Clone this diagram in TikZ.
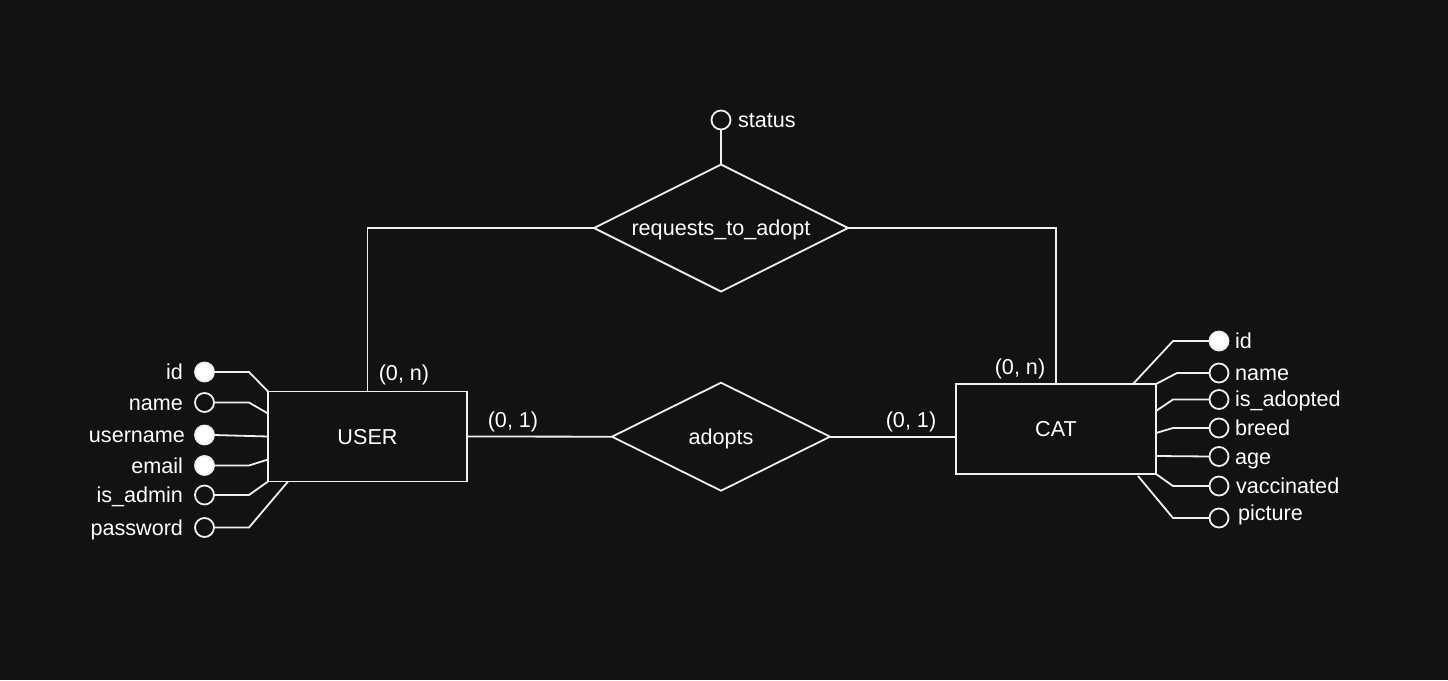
\documentclass[tikz,border=0pt]{standalone}
\usepackage{fontspec}
\setmainfont{Liberation Sans}
\usetikzlibrary{shapes.geometric}
\definecolor{bg}{RGB}{18,18,18}
\definecolor{ln}{RGB}{240,240,240}
\begin{document}
\begin{tikzpicture}[x=1pt,y=-1pt,
  every node/.style={font=\fontsize{21.6}{26}\selectfont, text=white, inner sep=0pt, outer sep=0pt},
  txt/.style={text height=17.5pt, text depth=2pt},
  conn/.style={draw=ln, line width=1.8pt},
  entity/.style={draw=ln, line width=1.8pt, rectangle, minimum width=199pt, minimum height=90pt},
  rel/.style={draw=ln, line width=1.8pt, diamond, aspect=2},
  keyattr/.style={draw=ln, fill=white, line width=1.8pt, circle, minimum size=19pt},
  attr/.style={draw=ln, fill=bg, line width=1.8pt, circle, minimum size=19pt},
]
\fill[bg] (0,0) rectangle (1448,680);
\useasboundingbox (0,0) rectangle (1448,680);

% entities
\node[entity, txt] (user) at (367.5,436.5) {USER};
\node[entity, txt, minimum width=200pt] (cat) at (1056,429) {CAT};

% relationships
\node[rel, txt, minimum width=254pt, minimum height=127pt] (req) at (721,228) {requests\_to\_adopt};
\node[rel, txt, minimum width=218pt, minimum height=108pt] (adopts) at (721,436.7) {adopts};

% status attribute
\node[attr] (status) at (721,120) {};
\node[txt, anchor=west] (statusl) at (738,120) {status};
\draw[conn] (status.south) -- (req.north);

% relationship connectors
\draw[conn] (req.west) -| (user.north);
\draw[conn] (req.east) -| (cat.north);
\draw[conn] (user.east) -- (adopts.west);
\draw[conn] (adopts.east) -- ([yshift=-7.7pt]cat.west);

% cardinalities
\node[txt] (c1) at (404,373) {(0, n)};
\node[txt] (c2) at (513,420) {(0, 1)};
\node[txt] (c3) at (911,420) {(0, 1)};
\node[txt] (c4) at (1020,367) {(0, n)};

% USER attributes
\node[keyattr] (uid) at (204.5,372) {};
\node[attr] (uname) at (204.5,402.5) {};
\node[keyattr] (uuser) at (204.5,435) {};
\node[keyattr] (umail) at (204.5,465.5) {};
\node[attr] (uadmin) at (204.5,495) {};
\node[attr] (upass) at (204.5,527.5) {};
\node[txt, anchor=east] (uidl) at (183,372) {id};
\node[txt, anchor=east] (unamel) at (183,402.5) {name};
\node[txt, anchor=east] (uuserl) at (185,435) {username};
\node[txt, anchor=east] (umaill) at (183,465.5) {email};
\node[txt, anchor=east] (uadminl) at (183,495) {is\_admin};
\node[txt, anchor=east] (upassl) at (183,527.5) {password};
\draw[conn] (uid.east) -- (249,372) -- (user.north west);
\draw[conn] (uname.east) -- (249,402.5) -- ([yshift=-22pt]user.north west);
\draw[conn] (uuser.east) -- (user.west);
\draw[conn] (umail.east) -- (249,465.5) -- ([yshift=22pt]user.south west);
\draw[conn] (uadmin.east) -- (249,495) -- (user.south west);
\draw[conn] (upass.east) -- (249,527.5) -- ([xshift=20pt]user.south west);

% CAT attributes
\node[keyattr] (cid) at (1219,341) {};
\node[attr] (cname) at (1219,373) {};
\node[attr] (cadopt) at (1219,399.5) {};
\node[attr] (cbreed) at (1219,428) {};
\node[attr] (cage) at (1219,456.5) {};
\node[attr] (cvacc) at (1219,486) {};
\node[attr] (cpic) at (1219,518) {};
\node[txt, anchor=west] (cidl) at (1235,341) {id};
\node[txt, anchor=west] (cnamel) at (1235,373) {name};
\node[txt, anchor=west] (cadoptl) at (1235,399) {is\_adopted};
\node[txt, anchor=west] (cbreedl) at (1235,428) {breed};
\node[txt, anchor=west] (cagel) at (1235,456.5) {age};
\node[txt, anchor=west] (cvaccl) at (1236,486) {vaccinated};
\node[txt, anchor=west] (cpicl) at (1238,513) {picture};
\draw[conn] (cid.west) -- (1173,341) -- ([xshift=-23pt]cat.north east);
\draw[conn] (cname.west) -- (1177,373) -- (cat.north east);
\draw[conn] (cadopt.west) -- (1173,399.5) -- ([yshift=-27pt]cat.north east);
\draw[conn] (cbreed.west) -- (1173,428) -- ([yshift=-49pt]cat.north east);
\draw[conn] (cage.west) -- ([yshift=-72pt]cat.north east);
\draw[conn] (cvacc.west) -- (1173,486) -- (cat.south east);
\draw[conn] (cpic.west) -- (1173,518) -- ([xshift=-18pt,yshift=-2pt]cat.south east);
\end{tikzpicture}
\end{document}
